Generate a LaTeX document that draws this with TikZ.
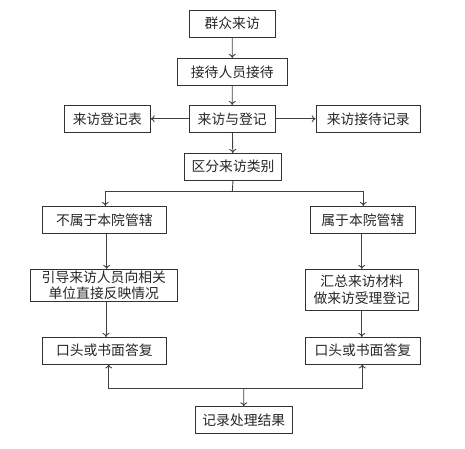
\documentclass[tikz,border=0pt]{standalone}
\usepackage{fontspec}
\setmainfont{Noto Sans CJK SC}
\usetikzlibrary{arrows.meta}
\begin{document}
\begin{tikzpicture}[x=1pt,y=-1pt,
  box/.style={draw=black!80,line width=0.8pt,inner sep=0pt,align=center,
    font=\fontsize{13.8}{16.8}\selectfont,text=black!85},
  conn/.style={draw=black!75,line width=0.9pt},
  arr/.style={conn,-{To[length=4pt,width=7pt]}}]
\useasboundingbox (0,0) rectangle (465,448);
\node[box,minimum width=86.3pt,minimum height=26.7pt] (b1) at (232.2,23.7) {群众来访};
\node[box,minimum width=110pt,minimum height=27pt] (b2) at (232.3,71.8) {接待人员接待};
\node[box,minimum width=86.3pt,minimum height=27pt] (b3) at (232.2,118.8) {来访与登记};
\node[box,minimum width=86pt,minimum height=27pt] (lt) at (107.3,118.8) {来访登记表};
\node[box,minimum width=104.3pt,minimum height=27pt] (rt) at (368.2,118.8) {来访接待记录};
\node[box,minimum width=97.4pt,minimum height=26.7pt] (b4) at (233,166.7) {区分来访类别};
\node[box,minimum width=124pt,minimum height=27pt] (nl) at (104.3,219.8) {不属于本院管辖};
\node[box,minimum width=105pt,minimum height=27pt] (yl) at (362.8,219.8) {属于本院管辖};
\node[box,minimum width=147pt,minimum height=32pt] (g) at (103.8,285.3) {引导来访人员向相关\\单位直接反映情况};
\node[box,minimum width=113pt,minimum height=41pt] (h) at (361.8,289.8) {汇总来访材料\\做来访受理登记};
\node[box,minimum width=124pt,minimum height=26.7pt] (k1) at (104.3,350.7) {口头或书面答复};
\node[box,minimum width=115pt,minimum height=26.7pt] (k2) at (362.8,350.7) {口头或书面答复};
\node[box,minimum width=97pt,minimum height=26.7pt] (r) at (243.8,420) {记录处理结果};
\coordinate (sp) at (232.3,191.7);
\coordinate (jn) at (243.7,388.3);
\draw[arr] (b1) -- (b2);
\draw[arr] (b2) -- (b3);
\draw[arr] (b3) -- (lt);
\draw[arr] (b3) -- (rt);
\draw[arr] (b3) -- (b4);
\draw[conn] (b4.south) -- (sp);
\draw[arr] (sp) -| ([xshift=1pt]nl.north);
\draw[arr] (sp) -| ([xshift=0.5pt]yl.north);
\draw[arr] ([xshift=2.4pt]nl.south) -- ([xshift=2.9pt]g.north);
\draw[arr] ([xshift=-1pt]yl.south) -- (h.north);
\draw[arr] ([xshift=2.2pt]g.south) -- ([xshift=1.7pt]k1.north);
\draw[arr] (h.south) -- ([xshift=-1pt]k2.north);
\draw[arr] (jn) -- (r.north);
\draw[arr] (jn) -| ([xshift=4.4pt]k1.south);
\draw[arr] (jn) -| ([xshift=-0.5pt]k2.south);
\end{tikzpicture}
\end{document}
